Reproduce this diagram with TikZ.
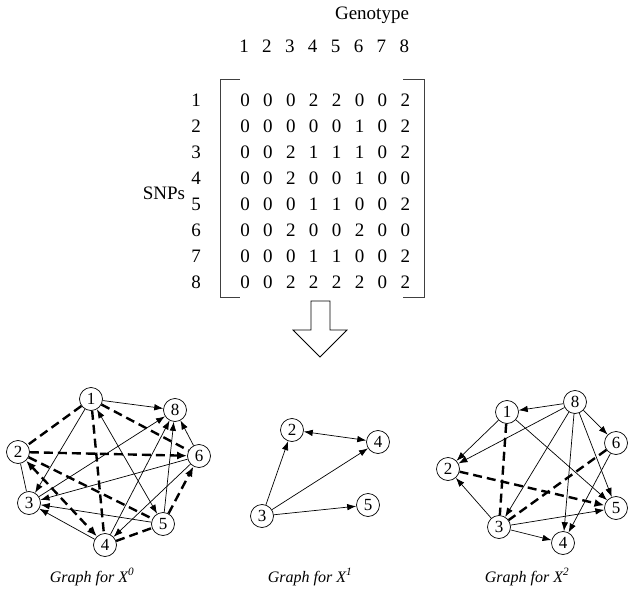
\documentclass[tikz,border=0pt]{standalone}
\usepackage{fontspec}
\setmainfont{Liberation Serif}
\usetikzlibrary{arrows.meta}
\tikzset{
  nd/.style={circle,draw,line width=0.7pt,minimum size=23pt,inner sep=0pt,font=\fontsize{17}{17}\selectfont},
  ed/.style={line width=0.7pt},
  ar/.style={ed,-{Latex[length=9pt,width=6.5pt]}},
  bar/.style={ed,{Latex[length=9pt,width=6.5pt]}-{Latex[length=9pt,width=6.5pt]}},
  dsh/.style={line width=2.4pt,dash pattern=on 9pt off 5pt},
  dar/.style={dsh,-{Latex[length=10pt,width=8pt]}},
  dbar/.style={dsh,{Latex[length=10pt,width=8pt]}-{Latex[length=10pt,width=8pt]}},
  txt/.style={font=\fontsize{19}{19}\selectfont,inner sep=0pt},
  captxt/.style={font=\fontsize{16}{16}\selectfont\itshape,inner sep=0pt},
  brk/.style={line width=0.9pt,draw=black!75},
}
\begin{document}
\begin{tikzpicture}[x=1pt,y=-1pt]
\useasboundingbox (0,0) rectangle (629,596);
% matrix part
\node[txt] (geno) at (372,15) {Genotype};
\node[txt] (snps) at (164,193) {SNPs};
\foreach \c in {1,...,8}{
  \node[txt] (h\c) at ({244+22.9*(\c-1)},46) {\c};
}
\foreach \r in {1,...,8}{
  \node[txt] (r\r) at (196,{100+26.1*(\r-1)}) {\r};
}
\foreach \row [count=\r] in {{0,0,0,2,2,0,0,2},{0,0,0,0,0,1,0,2},{0,0,2,1,1,1,0,2},{0,0,2,0,0,1,0,0},{0,0,0,1,1,0,0,2},{0,0,2,0,0,2,0,0},{0,0,0,1,1,0,0,2},{0,0,2,2,2,2,0,2}}{
  \foreach \v [count=\c] in \row {
    \node[txt] (m\r-\c) at ({245+22.9*(\c-1)},{100+26.1*(\r-1)}) {\v};
  }
}
\draw[brk] (240,79) -- (220,79) -- (220,297) -- (240,297);
\draw[brk] (403,79) -- (424,79) -- (424,297) -- (403,297);
% hollow arrow
\draw[line width=0.8pt] (311,301) -- (330,301) -- (330,330) -- (347,330) -- (320,357) -- (293,330) -- (311,330) -- cycle;
% Graph X0
\node[nd] (a1) at (91,399) {1};
\node[nd] (a8) at (175,410) {8};
\node[nd] (a2) at (18,452) {2};
\node[nd] (a6) at (199,456) {6};
\node[nd] (a3) at (29,503) {3};
\node[nd] (a5) at (163,524) {5};
\node[nd] (a4) at (105,545) {4};
\draw[dsh] (a1) -- (a2);
\draw[dsh] (a1) -- (a6);
\draw[dsh] (a1) -- (a4);
\draw[dsh] (a2) -- (a5);
\draw[dsh] (a4) -- (a5);
\draw[dar] (a2) -- (a6);
\draw[dar] (a5) -- (a6);
\draw[dbar] (a2) -- (a4);
\draw[ar] (a1) -- (a8);
\draw[ar] (a1) -- (a3);
\draw[ed] (a2) -- (a3);
\draw[bar] (a1) -- (a5);
\draw[ar] (a3) -- (a8);
\draw[ar] (a6) -- (a3);
\draw[ar] (a5) -- (a3);
\draw[ar] (a4) -- (a3);
\draw[ar] (a4) -- (a8);
\draw[ar] (a5) -- (a8);
\draw[ar] (a6) -- (a8);
\draw[ar] (a6) -- (a4);
% Graph X1
\node[nd] (b2) at (292,430) {2};
\node[nd] (b4) at (378,442) {4};
\node[nd] (b3) at (262,516) {3};
\node[nd] (b5) at (368,505) {5};
\draw[bar] (b2) -- (b4);
\draw[ar] (b3) -- (b2);
\draw[ar] (b3) -- (b4);
\draw[ar] (b3) -- (b5);
% Graph X2
\node[nd] (c1) at (507,412) {1};
\node[nd] (c8) at (575,402) {8};
\node[nd] (c6) at (616,443) {6};
\node[nd] (c2) at (448,469) {2};
\node[nd] (c5) at (616,508) {5};
\node[nd] (c3) at (499,527) {3};
\node[nd] (c4) at (563,543) {4};
\draw[ar] (c8) -- (c1);
\draw[ar] (c8) -- (c6);
\draw[ar] (c8) -- (c2);
\draw[ar] (c8) -- (c3);
\draw[ar] (c8) -- (c4);
\draw[ar] (c8) -- (c5);
\draw[ar] (c1) -- (c2);
\draw[ar] (c1) -- (c5);
\draw[dsh] (c1) -- (c3);
\draw[dar] (c2) -- (c5);
\draw[dsh] (c6) -- (c3);
\draw[ar] (c6) -- (c4);
\draw[ar] (c3) -- (c2);
\draw[ar] (c3) -- (c5);
\draw[ar] (c3) -- (c4);
% captions
\node[captxt] (t0) at (92,577) {Graph for X\textsuperscript{0}};
\node[captxt] (t1) at (310,577) {Graph for X\textsuperscript{1}};
\node[captxt] (t2) at (527,577) {Graph for X\textsuperscript{2}};
\end{tikzpicture}
\end{document}
